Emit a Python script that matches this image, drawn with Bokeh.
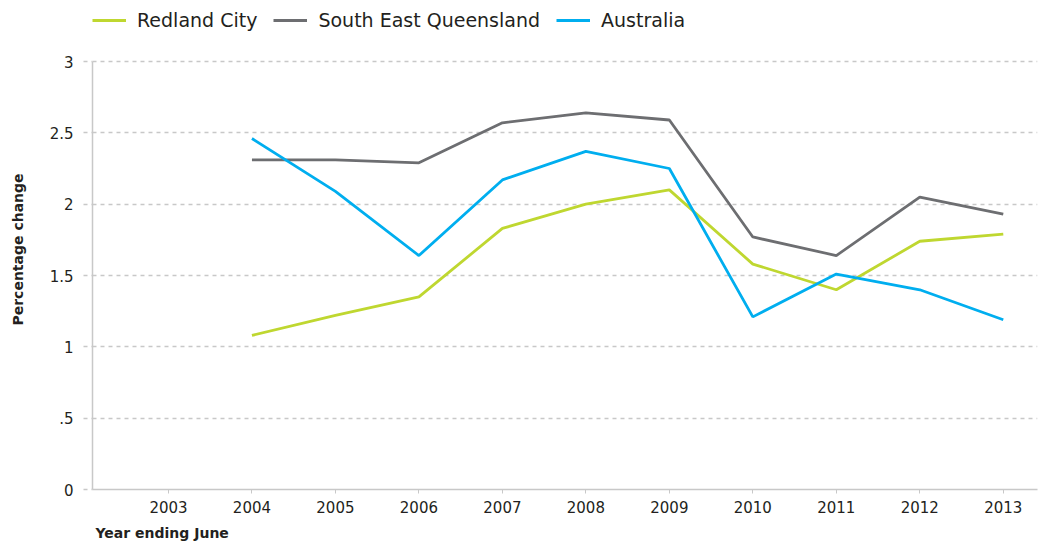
from bokeh.plotting import figure
from bokeh.models import (Range1d, FixedTicker, CustomJSTickFormatter, Legend,
                          LegendItem, Title)
from bokeh.embed import file_html
from bokeh.resources import INLINE

years = [2004, 2005, 2006, 2007, 2008, 2009, 2010, 2011, 2012, 2013]
tick_years = [2003, 2004, 2005, 2006, 2007, 2008, 2009, 2010, 2011, 2012, 2013]
redland = [1.08, 1.22, 1.35, 1.83, 2.00, 2.10, 1.58, 1.40, 1.74, 1.79]
seq = [2.31, 2.31, 2.29, 2.57, 2.64, 2.59, 1.77, 1.64, 2.05, 1.93]
australia = [2.46, 2.09, 1.64, 2.17, 2.37, 2.25, 1.21, 1.51, 1.40, 1.19]
y_ticks = [0, 0.5, 1, 1.5, 2, 2.5, 3]
series_names = ["Redland City", "South East Queensland", "Australia"]
colors = ["#BFD730", "#6D6E71", "#00AEEF"]

FONT = "DejaVu Sans"
GRID = "#c8c8c8"
TXT = "#231f20"

# frame spans from y=9 (top) to y=489 (value 0); value 3 sits at y=61
p = figure(width=1039, height=549, output_backend="svg", toolbar_location=None,
           x_range=Range1d(2002.09, 2013.41), y_range=Range1d(0, 3.3645),
           min_border_left=92, min_border_right=2, min_border_top=9,
           min_border_bottom=60)
p.outline_line_color = None
p.background_fill_color = "white"
p.border_fill_color = "white"

renderers = []
for vals, c in zip([redland, seq, australia], colors):
    r = p.line(years, vals, line_color=c, line_width=2.8)
    renderers.append(r)

# x axis
xa = p.xaxis[0]
xa.ticker = FixedTicker(ticks=tick_years)
xa.axis_line_color = GRID
xa.axis_line_width = 1.5
xa.major_tick_line_color = GRID
xa.major_tick_out = 4
xa.major_tick_in = 0
xa.minor_tick_line_color = None
xa.major_label_text_font = FONT
xa.major_label_text_font_size = "15px"
xa.major_label_text_color = TXT
xa.major_label_standoff = 7

# y axis
ya = p.yaxis[0]
ya.ticker = FixedTicker(ticks=y_ticks)
ya.bounds = (0, 3)
ya.formatter = CustomJSTickFormatter(code='return tick.toString().replace(/^0\\./, ".");')
ya.axis_line_color = GRID
ya.axis_line_width = 1.5
ya.major_tick_line_color = GRID
ya.major_tick_line_dash = "4 4"
ya.major_tick_line_width = 1.5
ya.major_tick_out = 9
ya.major_tick_in = 0
ya.minor_tick_line_color = None
ya.major_label_text_font = FONT
ya.major_label_text_font_size = "15px"
ya.major_label_text_color = TXT
ya.major_label_standoff = 10
ya.axis_label = "Percentage change"
ya.axis_label_text_font = FONT
ya.axis_label_text_font_style = "bold"
ya.axis_label_text_font_size = "14px"
ya.axis_label_text_color = TXT
ya.axis_label_standoff = 21

p.xgrid.grid_line_color = None
p.ygrid.grid_line_color = GRID
p.ygrid.grid_line_dash = "4 4"
p.ygrid.grid_line_width = 1.5

xt = Title(text="Year ending June", align="left", offset=3,
           text_font=FONT, text_font_style="bold", text_font_size="14px",
           text_color=TXT, standoff=14)
p.add_layout(xt, "below")

legend = Legend(items=[LegendItem(label=n, renderers=[r]) for n, r in zip(series_names, renderers)],
                orientation="horizontal", location="top_left",
                glyph_width=34, glyph_height=20, label_height=20,
                label_standoff=11, spacing=16, padding=0, margin=0,
                label_text_font=FONT, label_text_font_size="19px",
                label_text_color=TXT,
                background_fill_alpha=0, border_line_color=None)
p.add_layout(legend, "center")

open("out.html", "w").write(file_html(p, INLINE))
